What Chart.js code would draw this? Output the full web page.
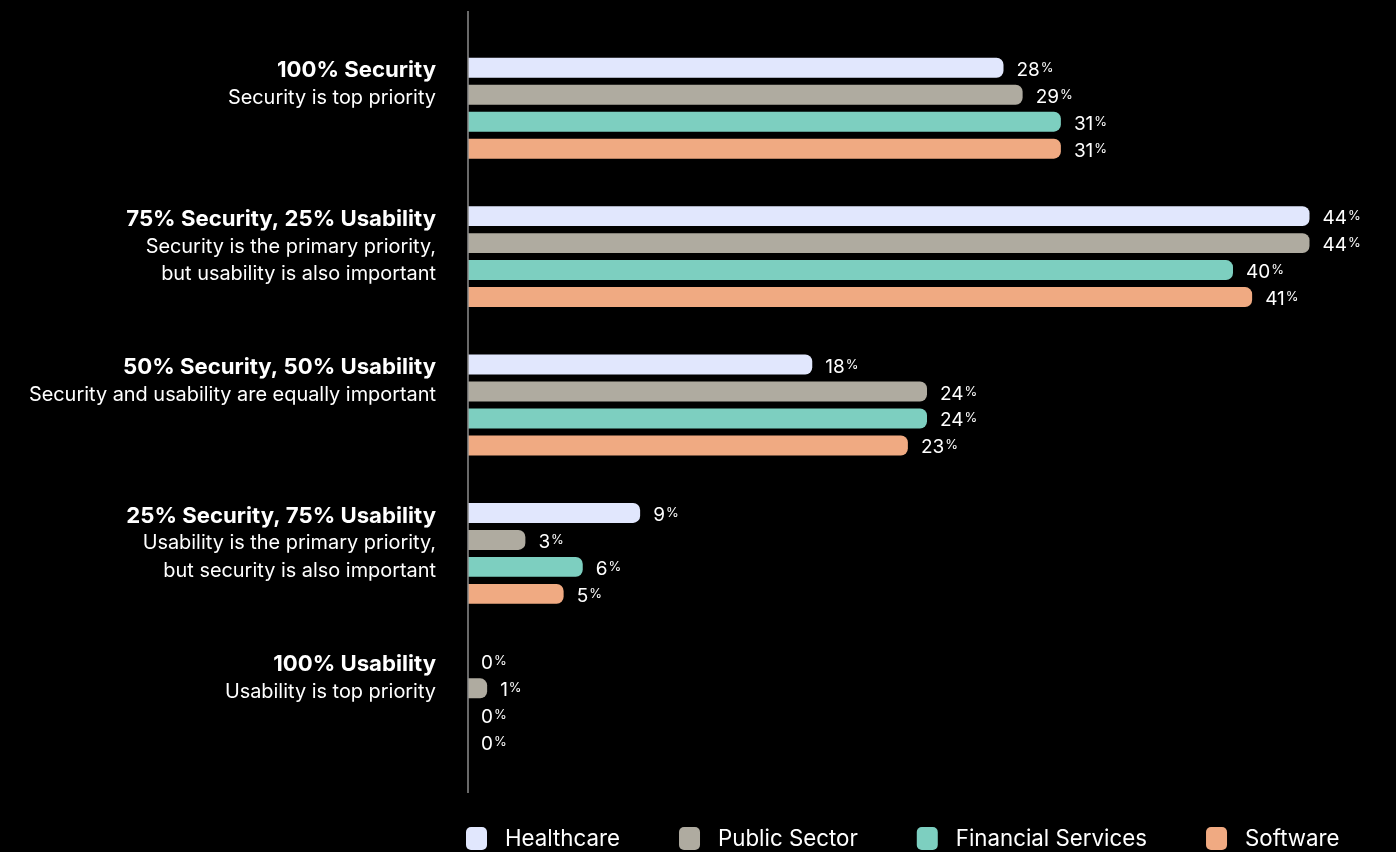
<!DOCTYPE html>
<html>
<head>
    <title>Security vs Usability</title>
    <script src="https://cdn.jsdelivr.net/npm/chart.js"></script>
    <style>
        html, body { margin: 0; padding: 0; background: #000; overflow: hidden; }
        #wrap { width: 1396px; height: 852px; }
    </style>
</head>
<body>
    <div id="wrap">
        <canvas id="priority-chart"></canvas>
    </div>

    <script>
        'use strict';

        const categories = ['100% Security', '75% Security, 25% Usability', '50% Security, 50% Usability', '25% Security, 75% Usability', '100% Usability'];
        const subtitles = [
            ['Security is top priority'],
            ['Security is the primary priority,', 'but usability is also important'],
            ['Security and usability are equally important'],
            ['Usability is the primary priority,', 'but security is also important'],
            ['Usability is top priority']
        ];
        const seriesNames = ['Healthcare', 'Public Sector', 'Financial Services', 'Software'];
        const healthcare = [28, 44, 18, 9, 0];
        const publicSector = [29, 44, 24, 3, 1];
        const financialServices = [31, 40, 24, 6, 0];
        const software = [31, 41, 23, 5, 0];
        const seriesColors = ['#e1e7fd', '#afaba0', '#7dcfc0', '#f0aa82'];

        const FONT = "Inter, 'Liberation Sans', Arial, sans-serif";

        // left-hand category captions: bold heading + regular lines under it
        const captionPlugin = {
            id: 'captions',
            afterDraw(chart) {
                const ctx = chart.ctx;
                const meta = chart.getDatasetMeta(0);
                const right = chart.chartArea.left - 32;
                ctx.save();
                ctx.fillStyle = '#fff';
                ctx.textAlign = 'right';
                ctx.textBaseline = 'middle';
                categories.forEach((cat, i) => {
                    const top = meta.data[i].y + 3;
                    ctx.font = '700 22.2px ' + FONT;
                    ctx.fillText(cat, right, top);
                    ctx.font = '19.9px ' + FONT;
                    subtitles[i].forEach((line, j) => {
                        ctx.fillText(line, right, top + 27.5 * (j + 1));
                    });
                });
                ctx.restore();
            }
        };

        // value labels at bar ends with a small percent sign
        const valuePlugin = {
            id: 'values',
            afterDatasetsDraw(chart) {
                const ctx = chart.ctx;
                ctx.save();
                ctx.fillStyle = '#fff';
                ctx.textBaseline = 'alphabetic';
                chart.data.datasets.forEach((ds, di) => {
                    chart.getDatasetMeta(di).data.forEach((bar, i) => {
                        const num = String(ds.data[i]);
                        const x = bar.x + 13;
                        const base = bar.y + 8;
                        ctx.font = '19px ' + FONT;
                        ctx.textAlign = 'left';
                        ctx.fillText(num, x, base);
                        const w = ctx.measureText(num).width;
                        ctx.font = '13px ' + FONT;
                        ctx.fillText('%', x + w + 1, base - 4);
                    });
                });
                ctx.restore();
            }
        };

        // vertical baseline at zero, running a little past the plot area
        const axisPlugin = {
            id: 'zeroLine',
            afterDraw(chart) {
                const ctx = chart.ctx;
                const x = chart.scales.x.getPixelForValue(0);
                ctx.save();
                ctx.strokeStyle = '#8c8c8c';
                ctx.lineWidth = 1.5;
                ctx.beginPath();
                ctx.moveTo(x, chart.chartArea.top - 23);
                ctx.lineTo(x, chart.chartArea.bottom + 17);
                ctx.stroke();
                ctx.restore();
            }
        };

        // legend row along the bottom, starting at the zero line
        const legendPlugin = {
            id: 'bottomLegend',
            afterDraw(chart) {
                const ctx = chart.ctx;
                let x = chart.scales.x.getPixelForValue(0) - 2;
                const top = chart.chartArea.bottom + 51;
                const box = 21;
                ctx.save();
                ctx.font = '22.3px ' + FONT;
                ctx.textBaseline = 'middle';
                ctx.textAlign = 'left';
                seriesNames.forEach((name, i) => {
                    ctx.fillStyle = seriesColors[i];
                    ctx.beginPath();
                    ctx.roundRect(x, top, box, box + 2, 5);
                    ctx.fill();
                    ctx.fillStyle = '#fff';
                    ctx.fillText(name, x + box + 18, top + 12);
                    x += box + 18 + ctx.measureText(name).width + 59;
                });
                ctx.restore();
            }
        };

        const datasets = [healthcare, publicSector, financialServices, software].map((values, i) => ({
            label: seriesNames[i],
            data: values,
            backgroundColor: seriesColors[i],
            borderRadius: 7,
            borderSkipped: 'start',
            categoryPercentage: 0.727,
            barPercentage: 0.74
        }));

        new Chart(document.getElementById('priority-chart'), {
            type: 'bar',
            data: { labels: categories, datasets: datasets },
            options: {
                indexAxis: 'y',
                responsive: true,
                maintainAspectRatio: false,
                animation: false,
                layout: {
                    padding: { left: 468, right: 10, top: 34, bottom: 76 }
                },
                scales: {
                    x: { display: false, min: 0, max: 48 },
                    y: { display: false }
                },
                plugins: {
                    legend: { display: false },
                    tooltip: { enabled: false }
                }
            },
            plugins: [captionPlugin, valuePlugin, axisPlugin, legendPlugin]
        });
    </script>
</body>
</html>
